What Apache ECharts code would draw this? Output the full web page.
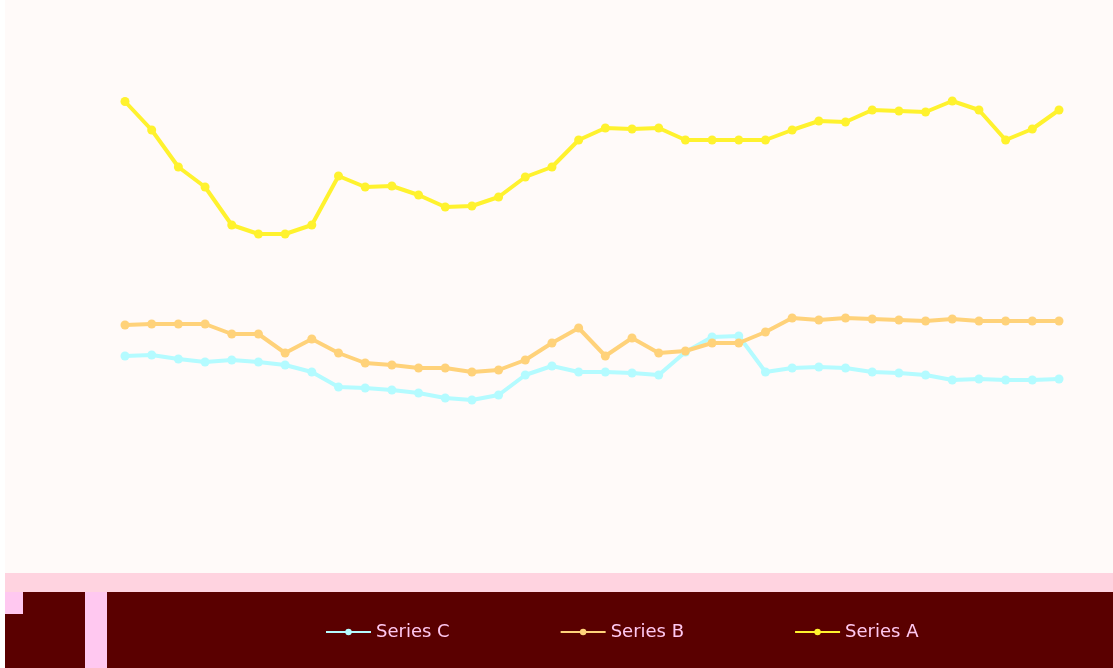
<!DOCTYPE html>
<html>
<head>
<meta charset="utf-8">
<script src="https://cdn.jsdelivr.net/npm/echarts@6/dist/echarts.min.js"></script>
<style>
html,body{margin:0;padding:0;background:#ffffff;}
#main{width:1113px;height:668px;}
</style>
</head>
<body>
<div id="main"></div>
<script>
const categories = ['1','2','3','4','5','6','7','8','9','10','11','12','13','14','15','16','17','18','19','20','21','22','23','24','25','26','27','28','29','30','31','32','33','34','35','36'];
const seriesNames = ['Series C', 'Series B', 'Series A'];
const yellowValues = [87.7,82,74.6,70.6,63,61.2,61.2,63,72.8,70.6,70.8,69,66.6,66.8,68.6,72.6,74.6,80,82.4,82.2,82.4,80,80,80,80,82,83.8,83.6,86,85.8,85.6,87.8,86,80,82.2,86];
const orangeValues = [43,43.2,43.2,43.2,41.2,41.2,37.4,40.2,37.4,35.4,35,34.4,34.4,33.6,34,36,39.4,42.4,36.8,40.4,37.4,37.8,39.4,39.4,41.6,44.4,44,44.4,44.2,44,43.8,44.2,43.8,43.8,43.8,43.8];
const cyanValues = [36.8,37,36.2,35.6,36,35.6,35,33.6,30.6,30.4,30,29.4,28.4,28,29,33,34.8,33.6,33.6,33.4,33,37.6,40.6,40.8,33.6,34.4,34.6,34.4,33.6,33.4,33,32,32.2,32,32,32.2];

const chart = echarts.init(document.getElementById('main'));
function lineSeries(name, data, color) {
  return {
    name: name,
    type: 'line',
    data: data,
    symbol: 'circle',
    symbolSize: 9,
    lineStyle: { width: 4, color: color },
    itemStyle: { color: color },
    z: 5
  };
}
chart.setOption({
  backgroundColor: '#fffaf9',
  animation: false,
  graphic: [
    { type: 'rect', left: 0, top: 0, shape: { width: 5, height: 668 }, style: { fill: '#ffffff' }, z: -1 },
    { type: 'rect', left: 5, top: 573, shape: { width: 1108, height: 20 }, style: { fill: '#ffd3e0' }, z: 0 },
    { type: 'rect', left: 5, top: 592, shape: { width: 1108, height: 76 }, style: { fill: '#5a0000' }, z: 0 },
    { type: 'rect', left: 85, top: 592, shape: { width: 22, height: 76 }, style: { fill: '#ffc8f0' }, z: 1 },
    { type: 'rect', left: 5, top: 592, shape: { width: 18, height: 22 }, style: { fill: '#ffc8f0' }, z: 1 }
  ],
  legend: {
    bottom: 22,
    left: 320,
    itemGap: 110,
    itemWidth: 45,
    itemHeight: 8,
    textStyle: { color: '#ffc8f0', fontSize: 18, fontFamily: 'DejaVu Sans' },
    data: seriesNames
  },
  grid: { left: 125, right: 54, top: 40, bottom: 128 },
  xAxis: {
    type: 'category',
    boundaryGap: false,
    data: categories,
    show: false
  },
  yAxis: {
    type: 'value',
    min: 0,
    max: 100,
    show: false
  },
  series: [
    lineSeries(seriesNames[0], cyanValues, '#b4fbff'),
    lineSeries(seriesNames[1], orangeValues, '#ffd27a'),
    lineSeries(seriesNames[2], yellowValues, '#fff22e')
  ]
});
</script>
</body>
</html>
